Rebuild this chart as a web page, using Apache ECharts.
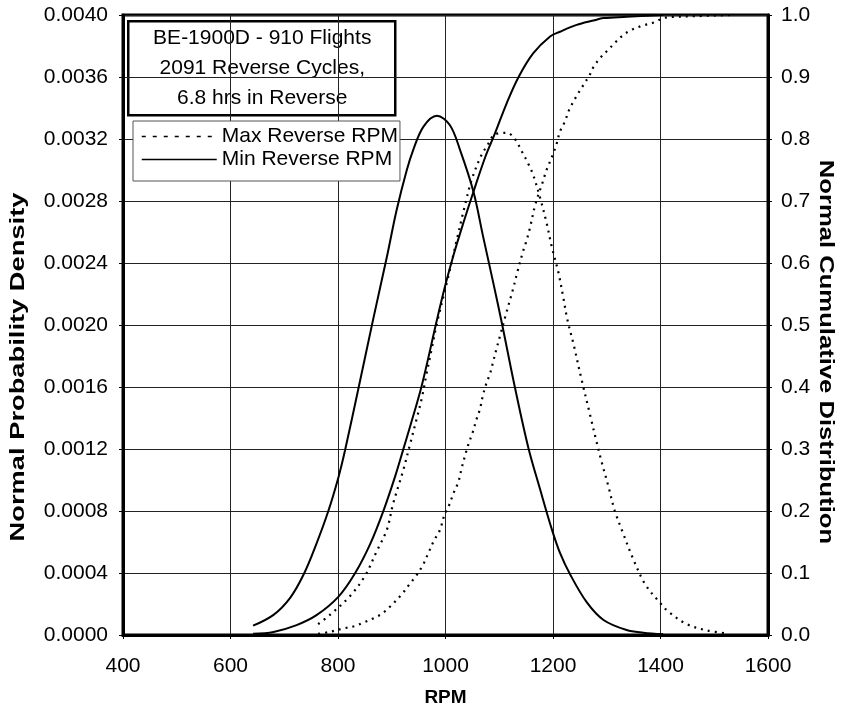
<!DOCTYPE html>
<html>
<head>
<meta charset="utf-8">
<script src="https://cdn.jsdelivr.net/npm/echarts@6/dist/echarts.min.js"></script>
<style>
html,body{margin:0;padding:0;background:#fff;overflow:hidden;}
#chart{width:841px;height:711px;}
</style>
</head>
<body>
<div id="chart"></div>
<script>
// ---- data ----
var xTicks = [400, 600, 800, 1000, 1200, 1400, 1600];
var titleLines = ['BE-1900D - 910 Flights', '2091 Reverse Cycles,', '6.8 hrs in Reverse'];
var legendNames = ['Max Reverse RPM', 'Min Reverse RPM'];
var axisNames = ['RPM', 'Normal Probability Density', 'Normal Cumulative Distribution'];

// Min reverse RPM - normal probability density
var minPdfRpm = [642, 680, 711, 736, 760, 782, 801, 813, 838, 865, 891, 909, 928, 940, 959, 984, 1008, 1027, 1052, 1070, 1089, 1105, 1129, 1154, 1176, 1198, 1213, 1232, 1263, 1294, 1337, 1368, 1405];
var minPdf    = [0.00006, 0.00013, 0.00024, 0.00039, 0.00059, 0.00080, 0.00102, 0.00119, 0.00159, 0.00203, 0.00244, 0.00274, 0.00300, 0.00313, 0.00328, 0.00335, 0.00329, 0.00313, 0.00286, 0.00257, 0.00227, 0.00201, 0.00160, 0.00121, 0.00094, 0.00068, 0.00053, 0.00039, 0.00021, 0.000097, 0.000032, 0.000015, 0.000005];

// Max reverse RPM - normal probability density
var maxPdfRpm = [763, 785, 822, 850, 872, 891, 902, 915, 922, 934, 946, 956, 965, 974, 984, 1005, 1021, 1036, 1049, 1066, 1078, 1092, 1114, 1129, 1142, 1154, 1163, 1176, 1188, 1198, 1210, 1219, 1227, 1238, 1253, 1269, 1280, 1291, 1303, 1315, 1330, 1348, 1371, 1396, 1415, 1449, 1486, 1526];
var maxPdf    = [0.00007, 0.00013, 0.00025, 0.00038, 0.00054, 0.00068, 0.00084, 0.00099, 0.00107, 0.00123, 0.00139, 0.00153, 0.00169, 0.00184, 0.00201, 0.00231, 0.00255, 0.00277, 0.00294, 0.00309, 0.00316, 0.00323, 0.00324, 0.00320, 0.00312, 0.00304, 0.00297, 0.00282, 0.00266, 0.00250, 0.00234, 0.00218, 0.00203, 0.00188, 0.00165, 0.00142, 0.00126, 0.00111, 0.00096, 0.00080, 0.00066, 0.00050, 0.00033, 0.00022, 0.00015, 0.00007, 0.00003, 0.00001];

// Min reverse RPM - normal cumulative distribution
var minCdfRpm = [642, 680, 723, 760, 801, 832, 860, 884, 906, 922, 934, 956, 984, 999, 1015, 1033, 1052, 1074, 1092, 1114, 1136, 1163, 1194, 1213, 1244, 1275, 1294, 1337, 1405];
var minCdf    = [0.002, 0.005, 0.016, 0.032, 0.062, 0.100, 0.147, 0.199, 0.255, 0.301, 0.336, 0.403, 0.508, 0.562, 0.613, 0.664, 0.715, 0.771, 0.809, 0.858, 0.900, 0.938, 0.965, 0.973, 0.984, 0.991, 0.995, 0.997, 1.000];

// Max reverse RPM - normal cumulative distribution
var maxCdfRpm = [763, 785, 807, 832, 847, 866, 881, 897, 919, 934, 945, 958, 969, 979, 990, 997, 1007, 1015, 1024, 1030, 1036, 1042, 1051, 1057, 1064, 1069, 1075, 1083, 1089, 1095, 1101, 1113, 1126, 1132, 1144, 1150, 1157, 1167, 1181, 1188, 1198, 1206, 1213, 1222, 1230, 1243, 1255, 1268, 1276, 1289, 1303, 1315, 1331, 1346, 1367, 1388, 1405, 1424, 1461, 1530];
var maxCdf    = [0.002, 0.005, 0.010, 0.0145, 0.020, 0.027, 0.034, 0.046, 0.066, 0.083, 0.095, 0.113, 0.134, 0.153, 0.170, 0.191, 0.210, 0.229, 0.247, 0.269, 0.288, 0.306, 0.328, 0.346, 0.364, 0.384, 0.403, 0.422, 0.442, 0.462, 0.481, 0.519, 0.559, 0.580, 0.618, 0.634, 0.656, 0.694, 0.731, 0.750, 0.771, 0.790, 0.812, 0.828, 0.847, 0.868, 0.885, 0.903, 0.917, 0.932, 0.944, 0.955, 0.968, 0.976, 0.983, 0.988, 0.995, 0.997, 0.998, 1.000];

function pairs(xs, ys) { return xs.map(function (x, i) { return [x, ys[i]]; }); }

var FONT = "'Liberation Sans', Arial, sans-serif";
var chart = echarts.init(document.getElementById('chart'), null, { renderer: 'canvas', width: 841, height: 711 });

var solid = { color: '#000', width: 2, type: 'solid' };
var dots = { color: '#000', width: 2.2, type: [2, 5] };

function lineSeries(name, yIdx, xs, ys, style) {
  return {
    name: name, type: 'line', yAxisIndex: yIdx, data: pairs(xs, ys),
    showSymbol: false, symbol: 'none', smooth: 0.35,
    lineStyle: style, itemStyle: { color: '#000' }, z: 3
  };
}

var option = {
  animation: false,
  backgroundColor: '#fff',
  textStyle: { fontFamily: FONT, color: '#000' },
  grid: { left: 123, right: 73, top: 15, bottom: 76, show: true, borderColor: '#000', borderWidth: 3, backgroundColor: 'transparent', containLabel: false, outerBoundsMode: 'none' },
  legend: {
    orient: 'vertical',
    left: 133, top: 121,
    data: [
      { name: legendNames[0], lineStyle: { type: [4, 7], width: 1.5 }, itemStyle: { opacity: 0 } },
      { name: legendNames[1], lineStyle: { width: 1.5 }, itemStyle: { opacity: 0 } }
    ],
    itemWidth: 75, itemHeight: 20, itemGap: 2,
    padding: [5, 2, 11, 8],
    borderColor: '#555', borderWidth: 1, backgroundColor: '#fff',
    textStyle: { fontFamily: FONT, fontSize: 21, color: '#000' },
    selectedMode: false,
    z: 10
  },
  xAxis: {
    type: 'value', min: 400, max: 1600, interval: 200,
    name: axisNames[0], nameLocation: 'middle', nameGap: 53,
    nameTextStyle: { fontFamily: FONT, fontSize: 19, fontWeight: 'bold', color: '#000' },
    axisLine: { show: true, lineStyle: { color: '#000', width: 3 } },
    axisTick: { show: true, length: 4, lineStyle: { color: '#000', width: 1 } },
    axisLabel: { fontFamily: FONT, fontSize: 21, color: '#000', margin: 21, formatter: function (v) { return String(v); } },
    splitLine: { show: true, lineStyle: { color: '#222', width: 1 } }
  },
  yAxis: [
    {
      type: 'value', min: 0, max: 0.004, interval: 0.0004, position: 'left',
      axisLine: { show: true, lineStyle: { color: '#000', width: 3 } },
      axisTick: { show: true, length: 4, lineStyle: { color: '#000', width: 1 } },
      axisLabel: { fontFamily: FONT, fontSize: 21, color: '#000', margin: 15, formatter: function (v) { return v.toFixed(4); } },
      splitLine: { show: true, lineStyle: { color: '#222', width: 1 } }
    },
    {
      type: 'value', min: 0, max: 1, interval: 0.1, position: 'right',
      axisLine: { show: true, lineStyle: { color: '#000', width: 3 } },
      axisTick: { show: true, length: 4, lineStyle: { color: '#000', width: 1 } },
      axisLabel: { fontFamily: FONT, fontSize: 21, color: '#000', margin: 13, formatter: function (v) { return v.toFixed(1); } },
      splitLine: { show: false }
    }
  ],
  series: [
    lineSeries(legendNames[0], 0, maxPdfRpm, maxPdf, dots),
    lineSeries(legendNames[1], 0, minPdfRpm, minPdf, solid),
    lineSeries(legendNames[0], 1, maxCdfRpm, maxCdf, dots),
    lineSeries(legendNames[1], 1, minCdfRpm, minCdf, solid)
  ],
  graphic: [
    {
      type: 'group', left: 127, top: 20, z: 20,
      children: [
        { type: 'rect', shape: { x: 0, y: 0, width: 267, height: 94 }, style: { fill: '#fff', stroke: '#000', lineWidth: 2.5 } },
        { type: 'text', x: 134, y: 17, style: { text: titleLines[0], font: '21px ' + FONT, fill: '#000', textAlign: 'center', textVerticalAlign: 'middle' } },
        { type: 'text', x: 134, y: 47, style: { text: titleLines[1], font: '21px ' + FONT, fill: '#000', textAlign: 'center', textVerticalAlign: 'middle' } },
        { type: 'text', x: 134, y: 77, style: { text: titleLines[2], font: '21px ' + FONT, fill: '#000', textAlign: 'center', textVerticalAlign: 'middle' } }
      ]
    },
    { type: 'text', x: 18, y: 367, rotation: Math.PI / 2, scaleX: 1.3, z: 20,
      style: { text: axisNames[1], font: 'bold 21px ' + FONT, fill: '#000', textAlign: 'center', textVerticalAlign: 'middle' } },
    { type: 'text', x: 826, y: 352, rotation: -Math.PI / 2, scaleX: 1.22, z: 20,
      style: { text: axisNames[2], font: 'bold 21px ' + FONT, fill: '#000', textAlign: 'center', textVerticalAlign: 'middle' } }
  ]
};
chart.setOption(option);
</script>
</body>
</html>
